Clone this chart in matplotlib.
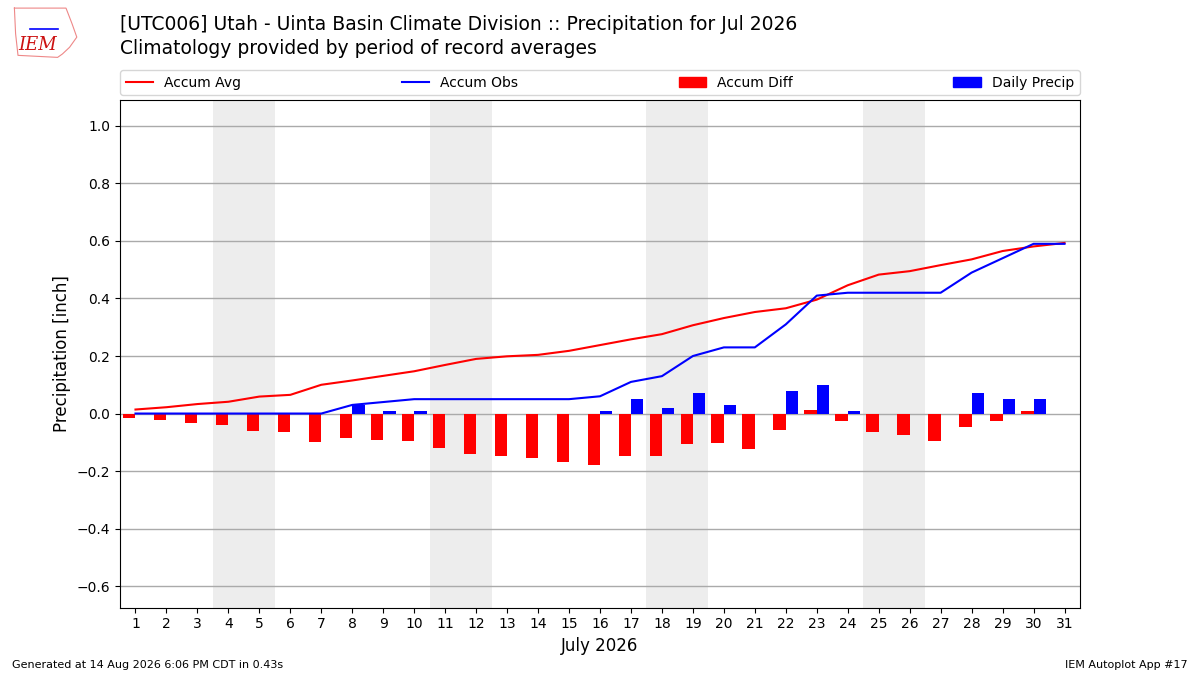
import matplotlib
matplotlib.use("Agg")
import matplotlib.pyplot as plt
import numpy as np
from matplotlib.patches import Patch
from matplotlib.lines import Line2D

days = list(range(1, 32))
daily_precip = [0.00, 0.00, 0.00, 0.00, 0.00, 0.00, 0.00, 0.03, 0.01, 0.01,
                0.00, 0.00, 0.00, 0.00, 0.00, 0.01, 0.05, 0.02, 0.07, 0.03,
                0.00, 0.08, 0.10, 0.01, 0.00, 0.00, 0.00, 0.07, 0.05, 0.05, 0.00]
accum_obs = [0.00, 0.00, 0.00, 0.00, 0.00, 0.00, 0.00, 0.03, 0.04, 0.05,
             0.05, 0.05, 0.05, 0.05, 0.05, 0.06, 0.11, 0.13, 0.20, 0.23,
             0.23, 0.31, 0.41, 0.42, 0.42, 0.42, 0.42, 0.49, 0.54, 0.59, 0.59]
accum_avg = [0.014, 0.022, 0.033, 0.041, 0.059, 0.065, 0.100, 0.115, 0.131, 0.147,
             0.169, 0.190, 0.199, 0.204, 0.218, 0.238, 0.258, 0.276, 0.307, 0.332,
             0.353, 0.366, 0.396, 0.446, 0.483, 0.495, 0.516, 0.536, 0.565, 0.581, 0.593]
weekends = [(4, 5), (11, 12), (18, 19), (25, 26)]

accum_diff = [o - a for o, a in zip(accum_obs, accum_avg)]

fig = plt.figure(figsize=(12, 6.75), dpi=100)
ax = fig.add_axes([0.1, 0.0997, 0.8, 0.7517])

for s, e in weekends:
    ax.axvspan(s - 0.5, e + 0.5, color="#ededed", zorder=0, lw=0)

x = np.array(days)
ax.bar(x - 0.4, accum_diff, width=0.4, align="edge", color="red", zorder=2)
ax.bar(x, daily_precip, width=0.4, align="edge", color="blue", zorder=2)
ax.plot(x, accum_avg, color="red", lw=1.5, zorder=3)
ax.plot(x, accum_obs, color="blue", lw=1.5, zorder=3)

ax.set_xlim(0.5, 31.5)
ax.set_ylim(-0.675, 1.089)
ax.set_xticks(days)
ax.set_yticks(np.arange(-0.6, 1.01, 0.2))
ax.yaxis.grid(True, color="#aaaaaa", lw=1, zorder=1)
ax.set_axisbelow(True)
ax.set_xlabel("July 2026", fontsize=12)
ax.set_ylabel("Precipitation [inch]", fontsize=12)

handles = [Line2D([], [], color="red", lw=1.5),
           Line2D([], [], color="blue", lw=1.5),
           Patch(color="red"), Patch(color="blue")]
labels = ["Accum Avg", "Accum Obs", "Accum Diff", "Daily Precip"]
ax.legend(handles, labels, loc="lower left", bbox_to_anchor=(0, 1.01, 1, 0.05),
          mode="expand", ncol=4, borderaxespad=0, fontsize=10)

fig.text(0.1, 0.963, "[UTC006] Utah - Uinta Basin Climate Division :: Precipitation for Jul 2026",
         fontsize=13.5, va="center", ha="left")
fig.text(0.1, 0.928, "Climatology provided by period of record averages",
         fontsize=13.5, va="center", ha="left")

fig.text(0.01, 0.015, "Generated at 14 Aug 2026 6:06 PM CDT in 0.43s", fontsize=8, ha="left", va="center")
fig.text(0.99, 0.015, "IEM Autoplot App #17", fontsize=8, ha="right", va="center")

# logo
lx = [0.012, 0.055, 0.060, 0.064, 0.058, 0.052, 0.048, 0.015, 0.013]
ly = [0.988, 0.988, 0.965, 0.945, 0.930, 0.920, 0.915, 0.918, 0.95]
fig.add_artist(Line2D(lx + [lx[0]], ly + [ly[0]], color="#e88", lw=0.8, transform=fig.transFigure))
fig.text(0.031, 0.933, "IEM", color="#cc1111", fontsize=13, style="italic",
         family="DejaVu Serif", ha="center", va="center")
fig.add_artist(Line2D([0.025, 0.048], [0.957, 0.957], color="blue", lw=1.2, transform=fig.transFigure))

fig.savefig("out.png", dpi=100)
